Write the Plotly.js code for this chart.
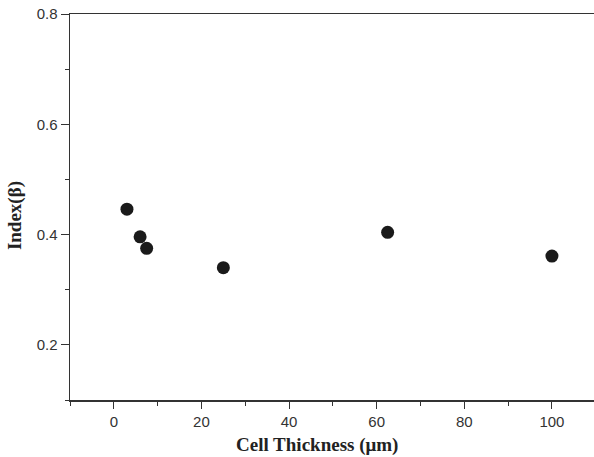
<!DOCTYPE html>
<html>
<head>
<meta charset="utf-8">
<script src="https://cdn.plot.ly/plotly-3.0.1.min.js"></script>
<style>html,body{margin:0;padding:0;background:#fff;}#chart{width:594px;height:457px;}</style>
</head>
<body>
<div id="chart"></div>
<script>
var thickness = [3, 6, 7.5, 25, 62.5, 100];
var indexBeta = [0.446, 0.396, 0.375, 0.340, 0.404, 0.361];
var xTickVals = [0, 20, 40, 60, 80, 100];
var yTickVals = [0.2, 0.4, 0.6, 0.8];
var xTitle = 'Cell Thickness (μm)';
var yTitle = 'Index(β)';

var trace = {
  x: thickness,
  y: indexBeta,
  type: 'scatter',
  mode: 'markers',
  marker: {size: 13, color: '#1a1a1a'},
  showlegend: false
};

var titleFont = {family: 'Liberation Serif, Times New Roman, serif', size: 19, color: '#222'};

var layout = {
  width: 594,
  height: 457,
  margin: {l: 70, r: 0, t: 14, b: 57},
  paper_bgcolor: '#fff',
  plot_bgcolor: '#fff',
  font: {family: 'Liberation Sans, Arial, sans-serif', size: 15, color: '#333'},
  xaxis: {
    range: [-10, 109.6],
    tickvals: xTickVals,
    ticks: 'outside',
    ticklen: 7,
    tickwidth: 1,
    tickcolor: '#333',
    showline: true,
    linecolor: '#333',
    linewidth: 1.5,
    mirror: true,
    showgrid: false,
    zeroline: false,
    minor: {dtick: 10, tick0: 10, ticks: 'outside', ticklen: 4, tickcolor: '#333', showgrid: false}
  },
  yaxis: {
    range: [0.1, 0.8],
    tickvals: yTickVals,
    tickformat: '.1f',
    ticks: 'outside',
    ticklen: 8,
    tickwidth: 1,
    tickcolor: '#333',
    showline: true,
    linecolor: '#333',
    linewidth: 1.5,
    showgrid: false,
    zeroline: false,
    minor: {dtick: 0.1, tick0: 0.1, ticks: 'outside', ticklen: 4, tickcolor: '#333', showgrid: false}
  },
  annotations: [
    {text: '<b>' + xTitle + '</b>', xref: 'paper', yref: 'paper', x: 0.4714, y: -0.116,
     xanchor: 'center', yanchor: 'middle', showarrow: false, font: titleFont},
    {text: '<b>' + yTitle + '</b>', xref: 'paper', yref: 'paper', x: -0.105, y: 0.479,
     xanchor: 'center', yanchor: 'middle', showarrow: false, textangle: -90, font: titleFont}
  ]
};

Plotly.newPlot('chart', [trace], layout, {displayModeBar: false, staticPlot: true});
</script>
</body>
</html>
